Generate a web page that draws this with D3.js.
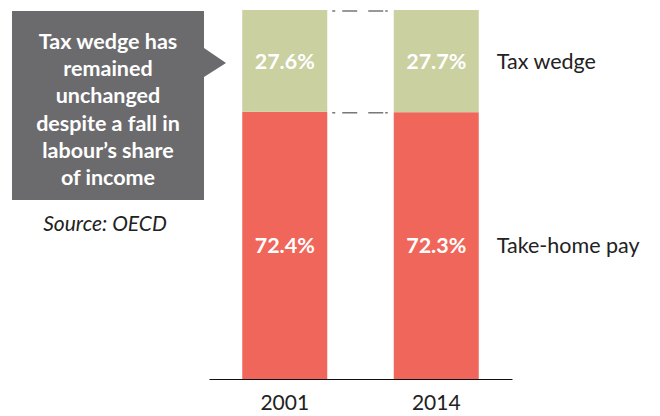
<!DOCTYPE html>
<html>
<head>
<meta charset="utf-8">
<script src="https://cdn.jsdelivr.net/npm/d3@7"></script>
<style>
  html, body { margin: 0; padding: 0; background: #fff; }
  svg { display: block; font-family: "Lato", "Open Sans", sans-serif; }
</style>
</head>
<body>
<svg id="chart" width="660" height="416"></svg>
<script>
// Share of labour cost, per cent
const years = ["2001", "2014"];
const takeHome = [72.4, 72.3];
const taxWedge = [27.6, 27.7];
const seriesNames = ["Take-home pay", "Tax wedge"];
const calloutLines = ["Tax wedge has", "remained", "unchanged", "despite a fall in", "labour\u2019s share", "of income"];
const sourceNote = "Source: OECD";

const colors = { "Take-home pay": "#f0665a", "Tax wedge": "#cad0a0" };

const rows = years.map((y, i) => ({ year: y, "Take-home pay": takeHome[i], "Tax wedge": taxWedge[i] }));
const stacked = d3.stack().keys(seriesNames)(rows);

const svg = d3.select("#chart");

const x = d3.scaleBand().domain(years).range([209, 512]).paddingInner(0.439).paddingOuter(0.2195);
const y = d3.scaleLinear().domain([0, 100]).range([379, 10]);

// Stacked bars
const layers = svg.append("g").selectAll("g").data(stacked).join("g")
  .attr("fill", d => colors[d.key]);

layers.selectAll("rect").data(d => d.map(p => ({ key: d.key, p })))
  .join("rect")
  .attr("x", d => x(d.p.data.year))
  .attr("width", x.bandwidth())
  .attr("y", d => y(d.p[1]))
  .attr("height", d => y(d.p[0]) - y(d.p[1]));

// Value labels inside segments
layers.selectAll("text").data(d => d.map(p => ({ key: d.key, p })))
  .join("text")
  .attr("x", d => x(d.p.data.year) + x.bandwidth() / 2)
  .attr("y", d => (y(d.p[0]) + y(d.p[1])) / 2)
  .attr("dy", "0.36em")
  .attr("text-anchor", "middle")
  .attr("fill", "#fff")
  .attr("font-weight", 700)
  .attr("font-size", 21.5)
  .text(d => d.p.data[d.key].toFixed(1) + "%");

// Dashed connectors between the bars at each segment top
const x1 = x(years[0]) + x.bandwidth();
const x2 = x(years[1]);
const connectorLevels = [stacked[1][0][1], stacked[0][0][1]];
svg.append("g").selectAll("line").data(connectorLevels).join("line")
  .attr("x1", x1 + 5).attr("x2", x2 - 6)
  .attr("y1", d => y(d) + 1).attr("y2", d => y(d) + 1)
  .attr("stroke", "#333")
  .attr("stroke-width", 1)
  .attr("stroke-dasharray", "3,7,15,11,15,2,3");

// Baseline and year labels
const axis = svg.append("g")
  .attr("transform", `translate(0,${y(0)})`)
  .call(d3.axisBottom(x).tickSize(0).tickSizeOuter(0).tickPadding(16));
axis.select(".domain").attr("stroke", "#111");
axis.selectAll("text")
  .attr("font-family", "Lato, 'Open Sans', sans-serif")
  .attr("font-size", 21)
  .attr("fill", "#222");

// Series labels to the right of the last bar
svg.append("g").selectAll("text").data(stacked).join("text")
  .attr("x", x(years[1]) + x.bandwidth() + 18)
  .attr("y", s => (y(s[s.length - 1][0]) + y(s[s.length - 1][1])) / 2)
  .attr("dy", "0.36em")
  .attr("font-size", 21.5)
  .attr("fill", "#222")
  .text(s => s.key);

// Callout box with pointer
const box = { x0: 12, x1: 204, y0: 11, y1: 200 };
svg.append("path")
  .attr("fill", "#6b6b6e")
  .attr("d", `M${box.x0},${box.y0}H${box.x1}V48L226,63L${box.x1},77V${box.y1}H${box.x0}Z`);

svg.append("g").selectAll("text").data(calloutLines).join("text")
  .attr("x", (box.x0 + box.x1) / 2)
  .attr("y", (d, i) => 49 + i * 27.2)
  .attr("text-anchor", "middle")
  .attr("fill", "#fff")
  .attr("font-weight", 700)
  .attr("font-size", 21.5)
  .text(d => d);

svg.append("text")
  .attr("x", 105)
  .attr("y", 231)
  .attr("text-anchor", "middle")
  .attr("font-style", "italic")
  .attr("font-size", 21)
  .attr("fill", "#222")
  .text(sourceNote);
</script>
</body>
</html>
